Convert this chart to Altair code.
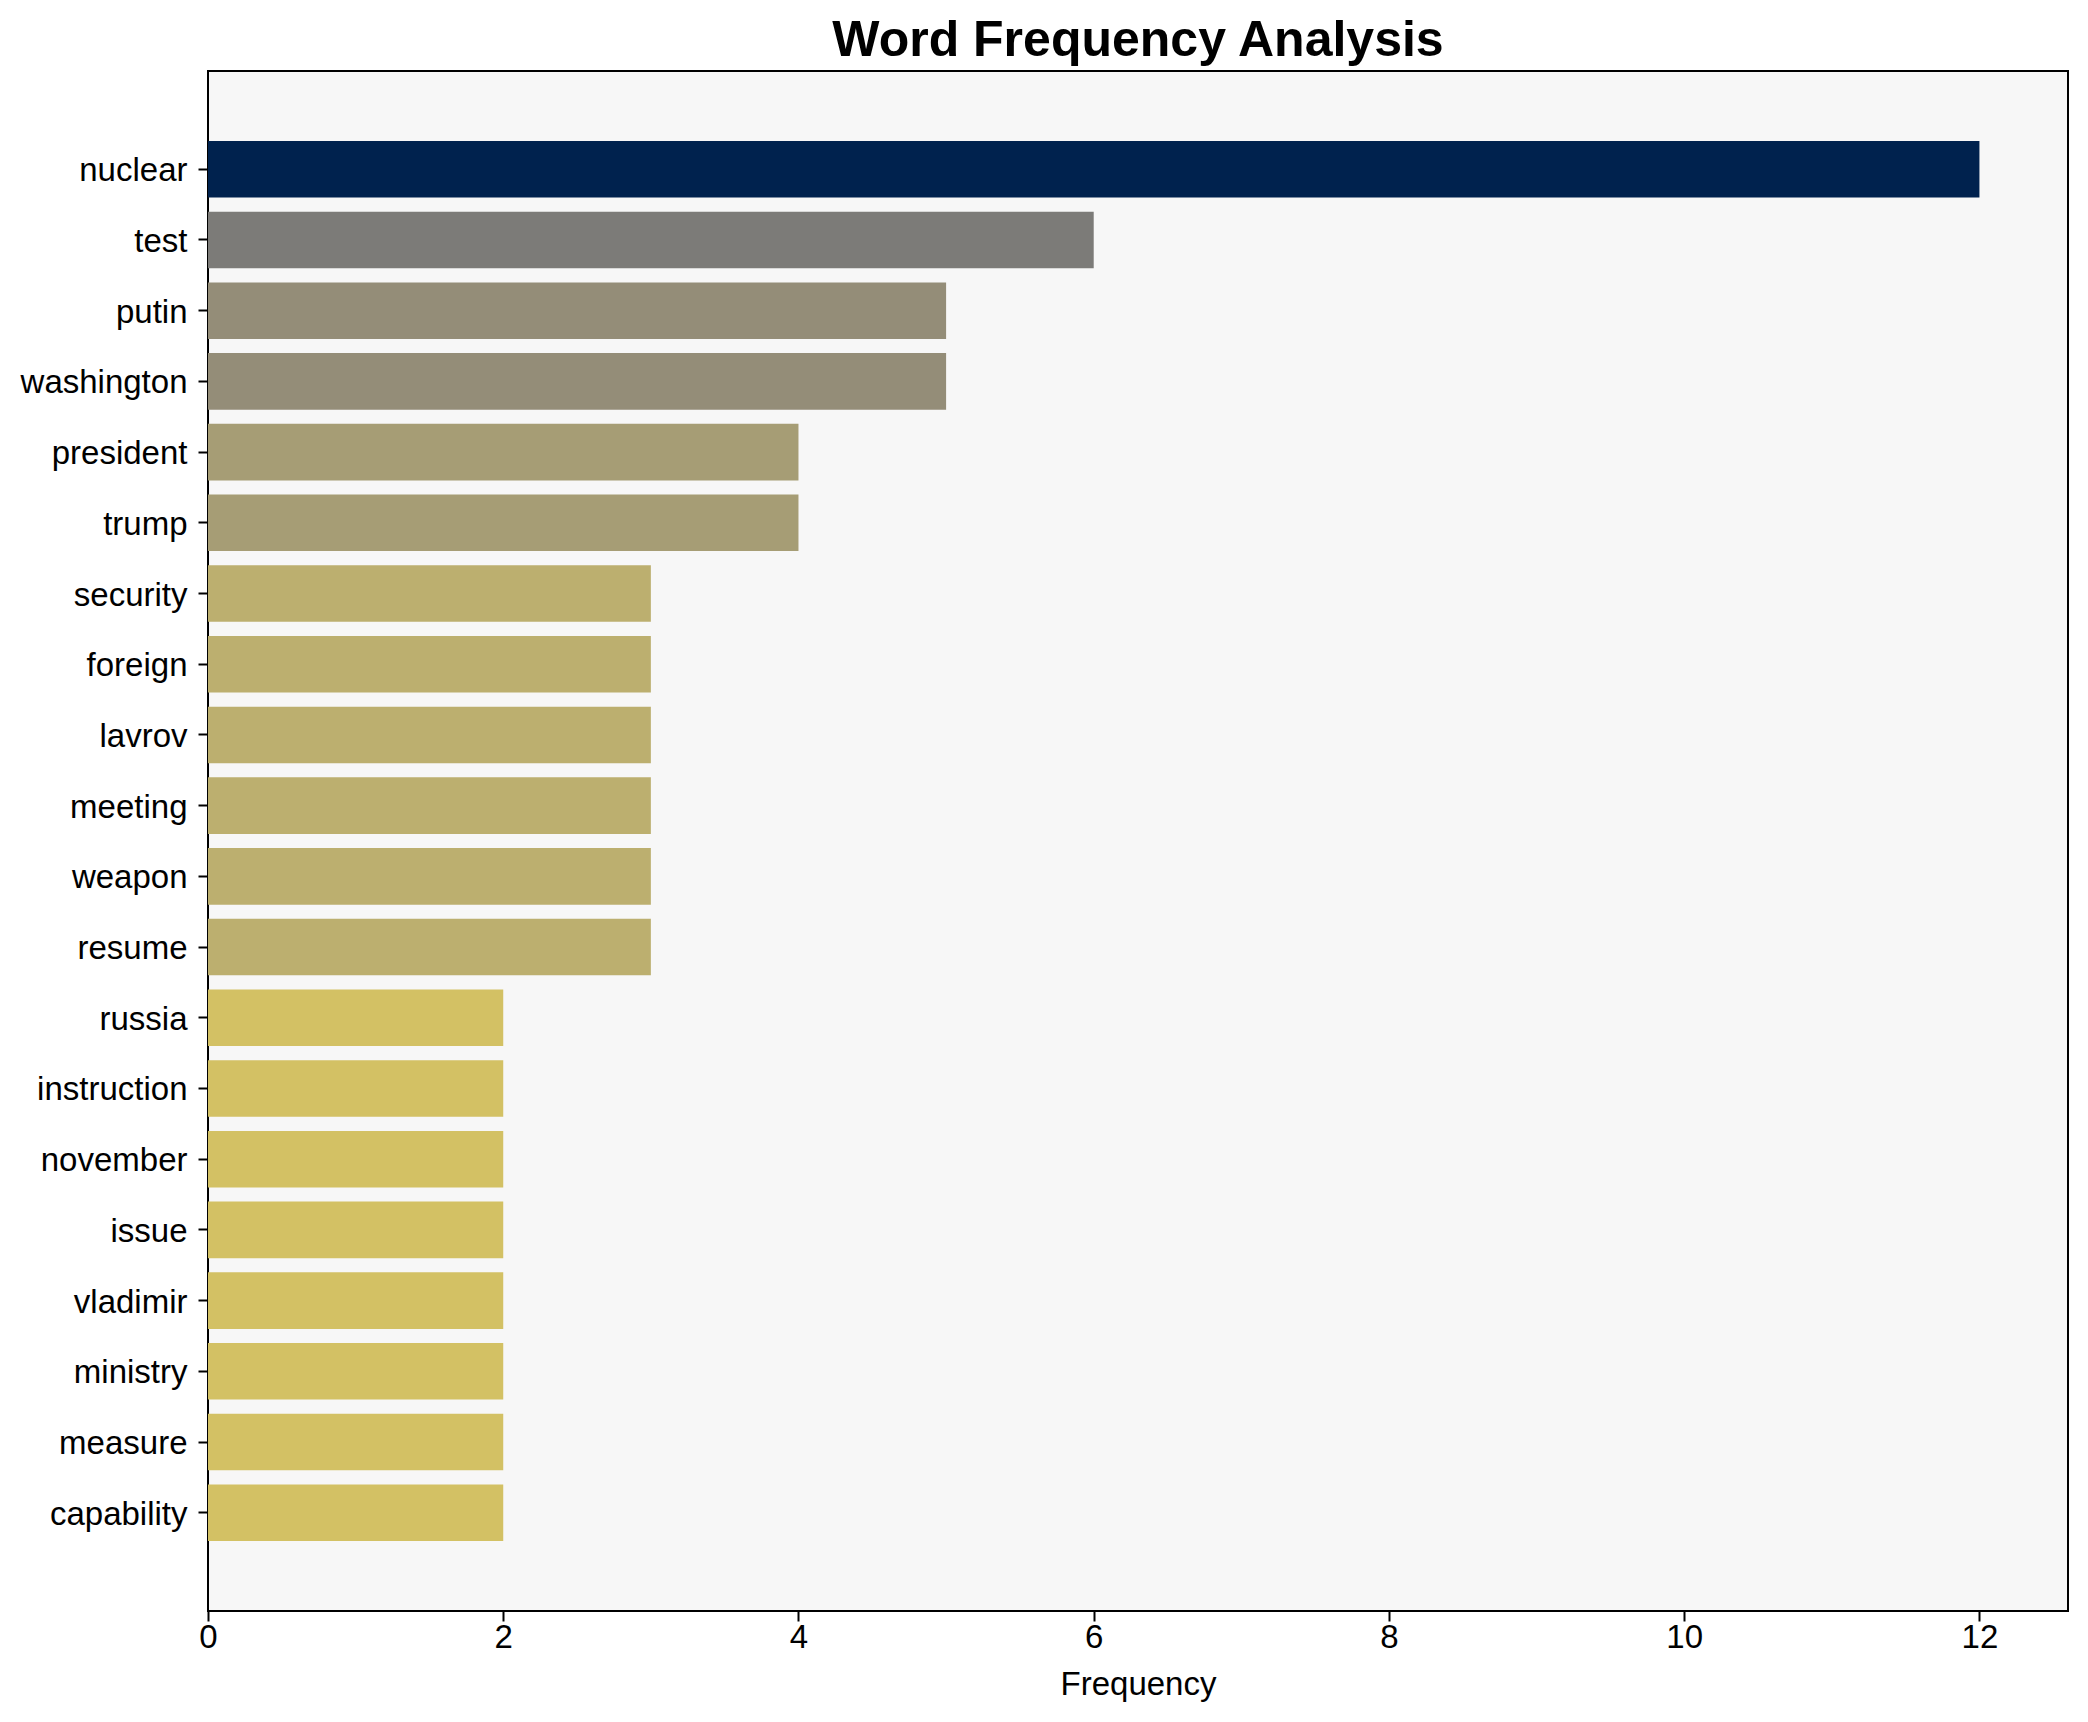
import altair as alt
import pandas as pd

words = ["nuclear", "test", "putin", "washington", "president", "trump", "security",
         "foreign", "lavrov", "meeting", "weapon", "resume", "russia", "instruction",
         "november", "issue", "vladimir", "ministry", "measure", "capability"]
freqs = [12, 6, 5, 5, 4, 4, 3, 3, 3, 3, 3, 3, 2, 2, 2, 2, 2, 2, 2, 2]
color_levels = [12, 6, 5, 4, 3, 2]
color_values = ["#00224e", "#7c7b78", "#948d78", "#a69d75", "#bcaf6f", "#d3c164"]

df = pd.DataFrame({"word": words, "Frequency": freqs})

FONT = "Liberation Sans"

chart = alt.Chart(df).mark_bar().encode(
    y=alt.Y("word:N", sort=words,
            scale=alt.Scale(paddingInner=0.2, paddingOuter=0.99),
            axis=alt.Axis(title=None, labelFontSize=33, labelFont=FONT, labelColor="black",
                          tickSize=10, tickWidth=2, tickColor="black", labelPadding=11,
                          labelOffset=2, domain=False, grid=False)),
    x=alt.X("Frequency:Q",
            scale=alt.Scale(domain=[0, 12.6], nice=False, zero=True),
            axis=alt.Axis(values=[0, 2, 4, 6, 8, 10, 12], format="d", title="Frequency",
                          titleFontSize=33, titleFont=FONT, titleFontWeight="normal",
                          titleColor="black", titlePadding=14, labelFlush=False,
                          labelFontSize=33, labelFont=FONT, labelColor="black",
                          tickSize=10, tickWidth=2, tickColor="black", labelPadding=0,
                          domain=False, grid=False)),
    color=alt.Color("Frequency:O", scale=alt.Scale(domain=color_levels, range=color_values),
                    legend=None),
).properties(
    width=1860,
    height=1540,
    title=alt.TitleParams("Word Frequency Analysis", fontSize=50, font=FONT,
                          fontWeight="bold", color="black", anchor="middle",
                          baseline="bottom", offset=5, dy=50),
    autosize=alt.AutoSizeParams(type="none"),
    padding={"left": 200, "top": 63, "right": 12, "bottom": 103},
).configure_view(
    fill="#f7f7f7", stroke="black", strokeWidth=2
)

chart.save("out.html", embed_options={"renderer": "svg", "actions": False})
